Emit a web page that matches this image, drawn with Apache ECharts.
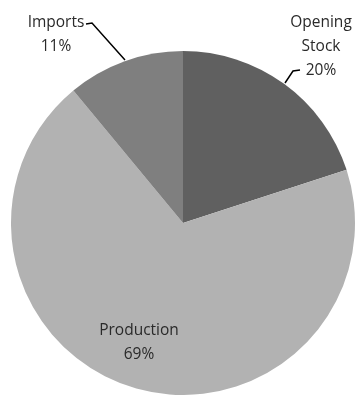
<!DOCTYPE html>
<html><head><meta charset="utf-8">
<script src="https://cdn.jsdelivr.net/npm/echarts@6/dist/echarts.min.js"></script>
<style>html,body{margin:0;padding:0;background:#fff}#c{width:357px;height:395px}</style>
</head><body><div id="c"></div>
<script>
const categories = ['Opening\nStock', 'Production', 'Imports'];
const values = [20, 69, 11];
const colors = ['#606060', '#b2b2b2', '#7f7f7f'];

const chart = echarts.init(document.getElementById('c'), null, {renderer: 'canvas'});
const labelPos = [
  {x: 321, y: 47, line: [[300, 70], [293, 71], [285, 83]]},
  {x: 139, y: 343, line: null},
  {x: 56, y: 35, line: [[86, 24], [92, 23], [125, 60]]}
];
chart.setOption({
  animation: false,
  series: [{
    type: 'pie',
    center: [183, 223],
    radius: 172,
    startAngle: 90,
    clockwise: true,
    data: categories.map((c, i) => ({
      name: c, value: values[i],
      itemStyle: {color: colors[i]},
      label: {position: i === 1 ? 'inside' : 'outside'},
      labelLine: {show: i !== 1}
    })),
    label: {
      formatter: p => p.name + '\n' + p.value + '%',
      fontFamily: 'Open Sans',
      fontSize: 15.5,
      lineHeight: 24,
      color: '#2a2a2a',
      align: 'center',
      overflow: 'none',
      width: 200
    },
    labelLine: {lineStyle: {color: '#000', width: 1.5}, length: 10, length2: 10},
    labelLayout: p => {
      const l = labelPos[p.dataIndex];
      const o = {x: l.x, y: l.y, align: 'center', verticalAlign: 'middle'};
      if (l.line) o.labelLinePoints = l.line;
      return o;
    }
  }]
});
</script></body></html>
